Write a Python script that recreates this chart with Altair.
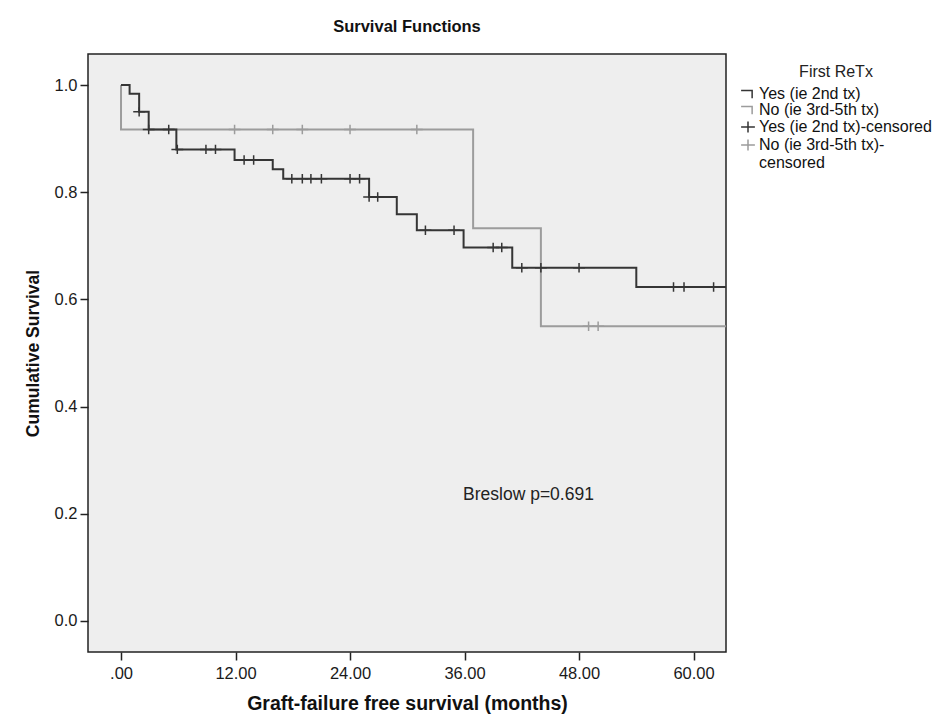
import altair as alt
import pandas as pd

FONT = "Liberation Sans"
DARK = "#353535"
GRAY = "#9c9c9c"

# Kaplan-Meier step curves (time in months, cumulative survival)
yes_time = [0, 0.9, 1.9, 2.9, 5.8, 11.9, 15.9, 17.0, 26.0, 28.9, 31.0, 35.9, 41.0, 54.0, 63.4]
yes_surv = [1.0, 0.984, 0.950, 0.917, 0.880, 0.860, 0.843, 0.825, 0.791, 0.759, 0.729, 0.697, 0.659, 0.623, 0.623]

no_time = [0, 0, 36.9, 44.0, 63.4]
no_surv = [1.0, 0.917, 0.733, 0.550, 0.550]

# censored observations
yes_cens_time = [1.9, 2.9, 5.0, 5.9, 8.9, 9.9, 12.9, 13.9, 17.9, 19.0, 19.9, 21.0, 24.0, 25.0,
                 26.0, 26.9, 31.9, 34.9, 39.0, 39.9, 42.0, 44.0, 48.0, 57.9, 59.0, 62.1]
yes_cens_surv = [0.950, 0.917, 0.917, 0.880, 0.880, 0.880, 0.860, 0.860, 0.825, 0.825, 0.825, 0.825, 0.825, 0.825,
                 0.791, 0.791, 0.729, 0.729, 0.697, 0.697, 0.659, 0.659, 0.659, 0.623, 0.623, 0.623]

no_cens_time = [11.9, 15.9, 19.0, 24.0, 31.0, 49.0, 50.0]
no_cens_surv = [0.917, 0.917, 0.917, 0.917, 0.917, 0.550, 0.550]

labels = ["Yes (ie 2nd tx)", "No (ie 3rd-5th tx)", "Yes (ie 2nd tx)-censored", "No (ie 3rd-5th tx)-censored"]

x_ticks = [0, 12, 24, 36, 48, 60]
y_ticks = [0.0, 0.2, 0.4, 0.6, 0.8, 1.0]

ann_time = [42.7]
ann_surv = [0.235]
ann_text = ["Breslow p=0.691"]

df_yes = pd.DataFrame({"t": yes_time, "s": yes_surv, "i": range(len(yes_time))})
df_no = pd.DataFrame({"t": no_time, "s": no_surv, "i": range(len(no_time))})
df_cens = pd.DataFrame({
    "t": yes_cens_time + no_cens_time,
    "s": yes_cens_surv + no_cens_surv,
    "label": [labels[2]] * len(yes_cens_time) + [labels[3]] * len(no_cens_time),
})
df_ann = pd.DataFrame({"t": ann_time, "s": ann_surv, "txt": ann_text})

xs = alt.Scale(domain=[-3.46, 63.4], nice=False, zero=False)
ys = alt.Scale(domain=[-0.058, 1.058], nice=False, zero=False)

x_axis = alt.Axis(
    values=x_ticks,
    labelExpr="datum.value == 0 ? '.00' : format(datum.value, '.2f')",
    title="Graft-failure free survival (months)",
    grid=False, domain=False, tickSize=8, tickWidth=1.5, tickColor="#222",
    labelFont=FONT, labelFontSize=16.5, labelColor="#1a1a1a", labelPadding=5,
    titleFont=FONT, titleFontSize=19.5, titleFontWeight="bold", titleColor="#111", titlePadding=13,
)
y_axis = alt.Axis(
    values=y_ticks, format=".1f",
    title="Cumulative Survival",
    grid=False, domain=False, tickSize=8, tickWidth=1.5, tickColor="#222",
    labelFont=FONT, labelFontSize=16.5, labelColor="#1a1a1a", labelPadding=3,
    titleFont=FONT, titleFontSize=17.5, titleFontWeight="bold", titleColor="#111", titlePadding=12,
)

X = alt.X("t:Q", scale=xs, axis=x_axis)
Y = alt.Y("s:Q", scale=ys, axis=y_axis)

line_no = alt.Chart(df_no).mark_line(interpolate="step-after", color=GRAY, strokeWidth=2, clip=True).encode(
    x=X, y=Y, order="i:Q")
line_yes = alt.Chart(df_yes).mark_line(interpolate="step-after", color=DARK, strokeWidth=2, clip=True).encode(
    x=X, y=Y, order="i:Q")

plus = "M-1,0L1,0M0,-0.8L0,0.8"
step = "M-1,-0.5L0.6,-0.5L0.6,0.6"

legend = alt.Legend(
    title="First ReTx", orient="none", legendX=652, legendY=10,
    titleAnchor="middle", titleFont=FONT, titleFontSize=16, titleFontWeight="normal", titleColor="#222",
    titlePadding=6,
    labelFont=FONT, labelFontSize=16, labelColor="#111", labelLimit=260, labelOffset=3,
    labelExpr="datum.label == 'No (ie 3rd-5th tx)-censored' ? ['No (ie 3rd-5th tx)-', 'censored'] : datum.label",
    symbolSize=190, symbolStrokeWidth=1.5, rowPadding=0,
)

points = alt.Chart(df_cens).mark_point(filled=False, strokeWidth=1.5, size=140, opacity=1).encode(
    x=X, y=Y,
    color=alt.Color("label:N", scale=alt.Scale(domain=labels, range=[DARK, GRAY, DARK, GRAY]), legend=legend),
    shape=alt.Shape("label:N", scale=alt.Scale(domain=labels, range=[step, step, plus, plus]), legend=legend),
)

ann = alt.Chart(df_ann).mark_text(fontSize=17.5, font=FONT, color="#222").encode(
    x=X, y=Y, text="txt:N")

chart = alt.layer(line_no, line_yes, points, ann).properties(
    width=638, height=598,
    title=alt.Title("Survival Functions", fontSize=16.5, fontWeight="bold", font=FONT,
                    anchor="middle", offset=19, color="#111"),
    autosize=alt.AutoSizeParams(type="none"),
    padding={"left": 88, "top": 54, "right": 226, "bottom": 70},
).configure_view(fill="#eeeeee", stroke="#222", strokeWidth=1.5)

chart.save("out.html", embed_options={"renderer": "svg", "actions": False})
